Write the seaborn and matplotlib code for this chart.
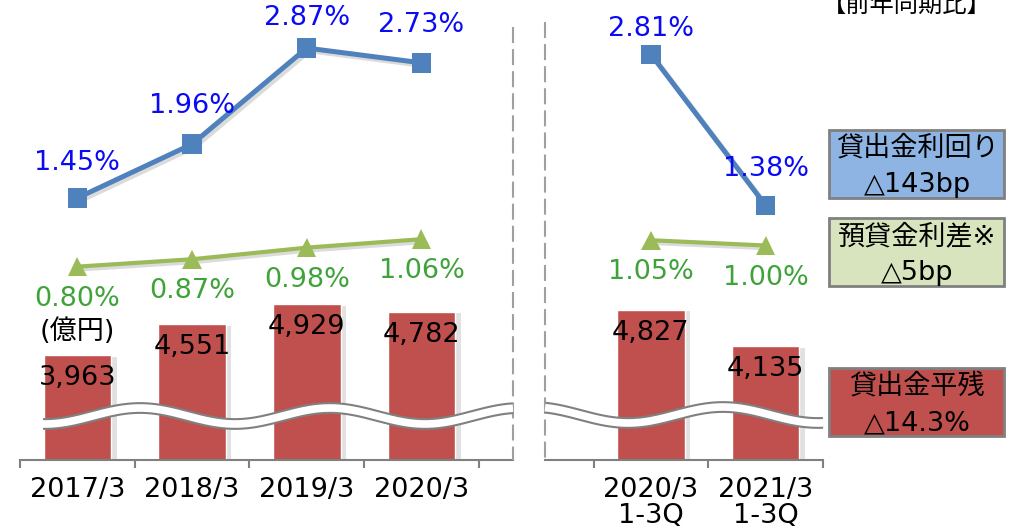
import numpy as np
import matplotlib
matplotlib.use("Agg")
import matplotlib.pyplot as plt
import matplotlib.patheffects as pe
from matplotlib.lines import Line2D
from matplotlib.patches import Rectangle
import seaborn as sns

# datos del grafico
cats_anual = ["2017/3", "2018/3", "2019/3", "2020/3"]
cats_trim = ["2020/3\n1-3Q", "2021/3\n1-3Q"]
saldo_anual = [3963, 4551, 4929, 4782]
saldo_trim = [4827, 4135]
rend_anual = [1.45, 1.96, 2.87, 2.73]
rend_trim = [2.81, 1.38]
margen_anual = [0.80, 0.87, 0.98, 1.06]
margen_trim = [1.05, 1.00]

ROJO = "#C0504D"
AZUL = "#4F81BD"
VERDE = "#9BBB59"
TXT_AZUL = "#0A0AF5"
TXT_VERDE = "#3FA33A"
GRIS = "#808080"
FS = 19.5

sns.set_style("white")
plt.rcParams["font.family"] = ["DejaVu Sans", "Noto Sans CJK JP"]
plt.rcParams["text.color"] = "black"

W, H = 1020, 531
fig = plt.figure(figsize=(W / 100, H / 100), dpi=100)

def px(x, y):
    return x / W, 1 - y / H

# ejes: misma escala (~114.7 px por categoria) en los dos paneles
ax1 = fig.add_axes([20 / W, 1 - 460 / H, 493 / W, 460 / H])
ax2 = fig.add_axes([545 / W, 1 - 460 / H, 278 / W, 460 / H])
escala = 114.7
lims_x = [(-0.5, -0.5 + 493 / escala), (1.5 - 278 / escala, 1.5)]
lims_bar = (1978, 1978 + 460 * 18.94)
lims_pct = (1.45 - 262 / 105.6, 1.45 + 198 / 105.6)

sombra_barra = [pe.SimplePatchShadow(offset=(4, -1), shadow_rgbFace="#888888", alpha=0.25), pe.Normal()]
sombra_linea = [pe.SimpleLineShadow(offset=(2, -2), shadow_color="#888888", alpha=0.3), pe.Normal()]

paneles = [
    (ax1, cats_anual, saldo_anual, rend_anual, margen_anual, [35, 38, 30, 38]),
    (ax2, cats_trim, saldo_trim, rend_trim, margen_trim, [25, 36]),
]

for k, (ax, cats, saldo, rend, margen, off_azul) in enumerate(paneles):
    sns.barplot(x=cats, y=saldo, ax=ax, color=ROJO, saturation=1, width=0.59)
    for p in ax.patches:
        p.set_path_effects(sombra_barra)
    for i, v in enumerate(saldo):
        ax.annotate(f"{v:,}", (i, v), xytext=(0, -23 / 1.389), textcoords="offset points",
                    ha="center", va="center", fontsize=FS, color="black")
    ax.set_xlim(*lims_x[k])
    ax.set_ylim(*lims_bar)
    ax.set_yticks([])
    ax.set_xticks(range(len(cats)))
    ax.set_xticklabels(cats, fontsize=FS, linespacing=1.02, color="black")
    ax.set_xticks(np.arange(len(cats) + 1) - 0.5, minor=True)
    ax.tick_params(axis="x", which="major", length=0, pad=12)
    ax.tick_params(axis="x", which="minor", length=6, width=1.5, color=GRIS, direction="out", bottom=True)
    for s in ["top", "left", "right"]:
        ax.spines[s].set_visible(False)
    ax.spines["bottom"].set_color(GRIS)
    ax.spines["bottom"].set_linewidth(1.5)
    ax.set_facecolor("none")

    tw = ax.twinx()
    xs = np.arange(len(cats))
    sns.lineplot(x=xs, y=margen, ax=tw, color=VERDE, linewidth=3, marker="^",
                 markersize=14, markeredgewidth=0, path_effects=sombra_linea)
    sns.lineplot(x=xs, y=rend, ax=tw, color=AZUL, linewidth=3.6, marker="s",
                 markersize=14, markeredgewidth=0, path_effects=sombra_linea)
    tw.set_ylim(*lims_pct)
    tw.set_xlim(*lims_x[k])
    tw.axis("off")
    for i, v in enumerate(rend):
        tw.annotate(f"{v:.2f}%", (i, v), xytext=(0, off_azul[i] / 1.389), textcoords="offset points",
                    ha="center", va="center", fontsize=FS, color=TXT_AZUL)
    for i, v in enumerate(margen):
        tw.annotate(f"{v:.2f}%", (i, v), xytext=(0, -32 / 1.389), textcoords="offset points",
                    ha="center", va="center", fontsize=FS, color=TXT_VERDE)

# unidad
fig.text(*px(77, 332), "(億円)", ha="center", va="center", fontsize=FS)

# lineas discontinuas de separacion
for x0, y0 in [(513, 27), (545, 22)]:
    fig.add_artist(Line2D([x0 / W, x0 / W], [1 - y0 / H, 1 - 460 / H], color="#A0A0A0",
                          lw=1.5, linestyle=(0, (7.7, 2.9)), transform=fig.transFigure))

# corte ondulado del eje
for xa, xb, yc, x0 in [(43, 513, 416, 92.5), (545, 823, 415, 675.5)]:
    xw = np.linspace(xa, xb, 200)
    yw = yc - 8 * np.sin(2 * np.pi * (xw - x0) / 190)
    fig.add_artist(Line2D(xw / W, 1 - yw / H, color=GRIS, lw=8.5, solid_capstyle="butt",
                          transform=fig.transFigure))
    fig.add_artist(Line2D(xw / W, 1 - yw / H, color="white", lw=5.5, solid_capstyle="butt",
                          transform=fig.transFigure))

# cajas de la derecha
cajas = [
    (130, 198, "#8DB4E2", "貸出金利回り", "△143bp"),
    (218, 286, "#D7E4BD", "預貸金利差※", "△5bp"),
    (368, 436, ROJO, "貸出金平残", "△14.3%"),
]
for y_top, y_bot, fc, t1, t2 in cajas:
    fig.add_artist(Rectangle(px(829, y_bot), 175 / W, (y_bot - y_top) / H, facecolor=fc,
                             edgecolor=GRIS, lw=2, transform=fig.transFigure))
    fig.text(*px(917, y_top + 19), t1, ha="center", va="center", fontsize=FS)
    fig.text(*px(917, y_top + 55), t2, ha="center", va="center", fontsize=FS)

fig.text(*px(907, 6), "【前年同期比】", ha="center", va="center", fontsize=17.5)

fig.savefig("out.png", dpi=100)
